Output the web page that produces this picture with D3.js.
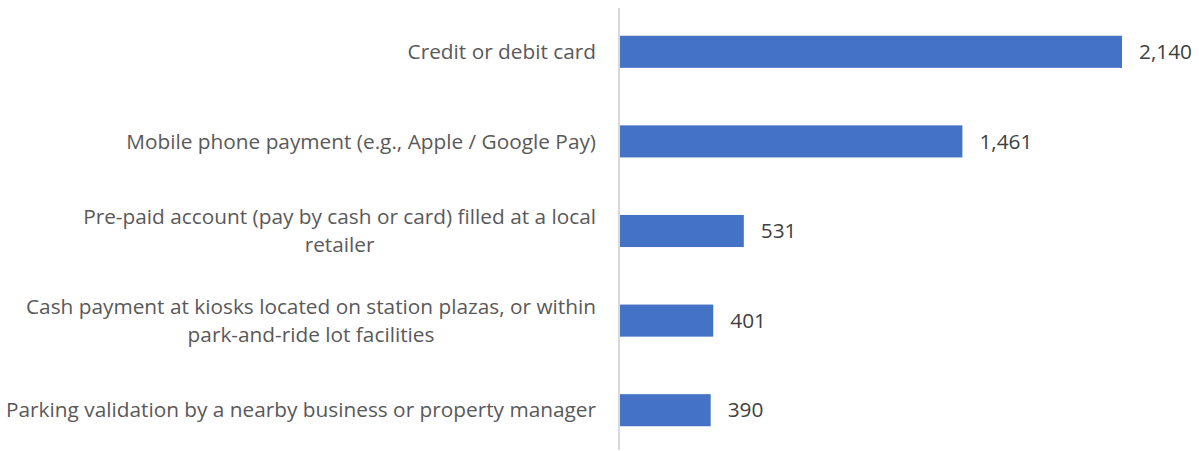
<!DOCTYPE html>
<html>
<head>
<meta charset="utf-8">
<script src="https://cdn.jsdelivr.net/npm/d3@7"></script>
<style>
  body { margin: 0; background: #fff; }
  svg { display: block; font-family: "Open Sans", sans-serif; }
</style>
</head>
<body>
<svg width="1199" height="451"></svg>
<script>
// payment method options, label lines split where the original wraps
var categories = [
  "Credit or debit card",
  "Mobile phone payment (e.g., Apple / Google Pay)",
  "Pre-paid account (pay by cash or card) filled at a local\nretailer",
  "Cash payment at kiosks located on station plazas, or within\npark-and-ride lot facilities",
  "Parking validation by a nearby business or property manager"
];
var values = [2140, 1461, 531, 401, 390];

(function() {
  var svg = d3.select("svg"),
    axisX = 619,
    fontSize = 20.8,
    lineHeight = 28;

  var data = categories.map(function(c, i) {
    return { name: c, value: values[i] };
  });

  var x = d3.scaleLinear()
      .domain([0, d3.max(values)])
      .range([axisX, 1122]);

  var y = d3.scaleBand()
      .domain(categories)
      .range([7, 455])
      .paddingInner(0.642)
      .paddingOuter(0.321);

  var fmt = d3.format(",");

  // bars
  svg.selectAll("rect.bar")
    .data(data)
    .enter().append("rect")
      .attr("class", "bar")
      .attr("x", x(0))
      .attr("y", function(d) { return y(d.name); })
      .attr("width", function(d) { return x(d.value) - x(0); })
      .attr("height", y.bandwidth())
      .style("fill", "#4472C4");

  // vertical category axis line
  svg.append("line")
      .attr("x1", axisX).attr("x2", axisX)
      .attr("y1", 8).attr("y2", 450)
      .style("stroke", "#d9d9d9")
      .style("stroke-width", 2);

  // category labels, right aligned block, lines centred
  var label = svg.selectAll("g.cat")
    .data(data)
    .enter().append("g")
      .attr("class", "cat");

  label.each(function(d) {
    var lines = d.name.split("\n"),
      g = d3.select(this),
      cy = y(d.name) + y.bandwidth() / 2,
      top = cy - (lines.length - 1) * lineHeight / 2;

    var texts = g.selectAll("text")
      .data(lines)
      .enter().append("text")
        .attr("y", function(l, i) { return top + i * lineHeight; })
        .attr("dy", "0.35em")
        .style("font-size", fontSize + "px")
        .style("fill", "#595959")
        .text(function(l) { return l; });

    // widest line sets the block, others centre under it
    var widths = [];
    texts.each(function() { widths.push(this.getComputedTextLength()); });
    var w = d3.max(widths), right = axisX - 23;
    texts.attr("x", right - w / 2).attr("text-anchor", "middle");
  });

  // value labels
  svg.selectAll("text.val")
    .data(data)
    .enter().append("text")
      .attr("class", "val")
      .attr("x", function(d) { return x(d.value) + 17; })
      .attr("y", function(d) { return y(d.name) + y.bandwidth() / 2; })
      .attr("dy", "0.35em")
      .style("font-size", fontSize + "px")
      .style("fill", "#404040")
      .text(function(d) { return fmt(d.value); });
})()
</script>
</body>
</html>
